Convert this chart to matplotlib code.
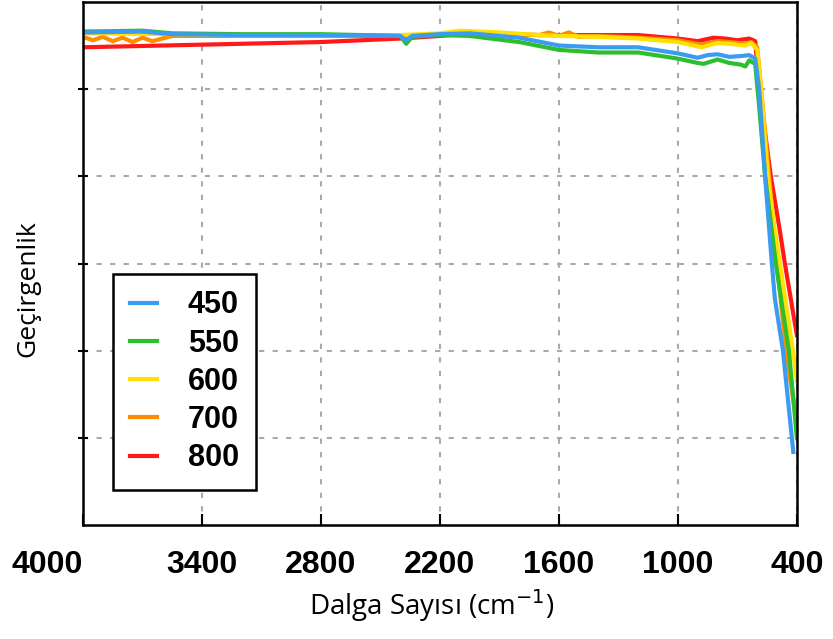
import numpy as np
import matplotlib.pyplot as plt

# FTIR transmittance spectra, samples annealed at different temperatures
wn_450 = [4000, 3700, 3550, 3200, 2800, 2400, 2370, 2340, 2200, 2050, 1800, 1600, 1400,
          1200, 1000, 900, 850, 800, 740, 680, 640, 610, 590, 560, 526, 511, 470, 425, 418]
tr_450 = [56.5, 56.6, 56.3, 56.2, 56.2, 56.1, 55.6, 56.1, 56.3, 56.4, 55.9, 55.0, 54.8,
          54.8, 54.1, 53.6, 53.9, 54.0, 53.7, 53.8, 53.9, 53.5, 50.0, 40.0, 30.0, 26.0, 20.0, 10.0, 8.4]

wn_550 = [4000, 3700, 3550, 3200, 2800, 2400, 2370, 2340, 2200, 2050, 1800, 1600, 1400,
          1200, 1000, 900, 870, 800, 740, 680, 660, 640, 610, 590, 560, 506, 440, 400]
tr_550 = [56.6, 56.7, 56.4, 56.3, 56.3, 56.1, 55.2, 56.0, 56.2, 56.1, 55.4, 54.5, 54.2,
          54.2, 53.5, 53.0, 52.9, 53.4, 53.0, 52.8, 52.6, 53.3, 52.9, 48.0, 40.0, 30.0, 20.0, 10.0]

wn_600 = [4000, 3550, 3200, 2800, 2400, 2200, 2100, 1900, 1700, 1600, 1400, 1200, 1000,
          880, 800, 740, 660, 630, 600, 580, 546, 511, 486, 420, 400]
tr_600 = [56.4, 56.3, 56.2, 56.2, 56.2, 56.4, 56.7, 56.5, 56.2, 56.1, 56.0, 55.8, 55.4,
          54.8, 55.3, 55.2, 55.0, 55.3, 54.5, 50.0, 40.0, 33.8, 30.1, 20.1, 16.6]

wn_700 = [4000, 3950, 3900, 3850, 3800, 3750, 3700, 3650, 3600, 3550, 3200, 2800, 2400,
          2200, 2000, 1700, 1650, 1600, 1550, 1500, 1400, 1200, 1000, 880, 800, 740, 660,
          630, 600, 580, 540, 500, 455, 400]
tr_700 = [56.0, 55.6, 56.0, 55.5, 55.9, 55.4, 55.9, 55.5, 55.8, 56.1, 56.1, 56.1, 56.1,
          56.3, 56.4, 56.2, 56.5, 56.1, 56.5, 56.0, 56.1, 55.9, 55.6, 55.1, 55.5, 55.4, 55.2,
          55.4, 54.8, 50.0, 40.0, 30.0, 20.0, 11.7]

wn_800 = [4000, 3400, 2800, 2400, 2200, 2100, 1900, 1700, 1600, 1400, 1200, 1050, 1000,
          900, 820, 760, 700, 640, 610, 590, 531, 486, 461, 400]
tr_800 = [54.8, 55.1, 55.4, 55.8, 56.1, 56.3, 56.3, 56.2, 56.2, 56.2, 56.2, 55.9, 55.8,
          55.5, 55.9, 55.8, 55.6, 55.8, 55.5, 50.0, 40.0, 33.8, 30.1, 21.8]

series = [
    ('800', wn_800, tr_800, '#ff1a1a'),
    ('700', wn_700, tr_700, '#ff8c00'),
    ('600', wn_600, tr_600, '#ffe000'),
    ('550', wn_550, tr_550, '#2dbe2d'),
    ('450', wn_450, tr_450, '#3a9bf0'),
]
legend_order = ['450', '550', '600', '700', '800']
xticks = [4000, 3400, 2800, 2200, 1600, 1000, 400]

fig = plt.figure(figsize=(8.33, 6.39), dpi=100)
ax = fig.add_axes([0.0996, 0.178, 0.857, 0.819])

handles = {}
for name, wn, tr, color in series:
    line, = ax.plot(wn, tr, color=color, lw=3.0, label=name, solid_joinstyle='round')
    handles[name] = line

ax.set_xlim(4000, 400)
ax.set_ylim(0, 60)
ax.set_xticks(xticks)
ax.set_xticklabels([str(t) for t in xticks], fontfamily='Liberation Sans',
                   fontweight='bold', fontsize=23)
ax.get_xticklabels()[0].set_horizontalalignment('right')
ax.set_yticks(np.arange(10, 60, 10))
ax.set_yticklabels([])
ax.tick_params(axis='x', direction='in', length=8, width=1.5, pad=18)
ax.tick_params(axis='y', direction='inout', length=7, width=1.5)
ax.grid(True, color='#aaaaaa', linestyle=(0, (2.5, 4)), linewidth=1.5)
for s in ax.spines.values():
    s.set_linewidth(1.8)

ax.set_xlabel('Dalga Sayısı (cm$^{-1}$)', fontfamily='Open Sans', fontsize=20)
ax.xaxis.set_label_coords(0.488, -0.118)
ax.set_ylabel('Geçirgenlik', fontfamily='Open Sans', fontsize=19)
ax.yaxis.set_label_coords(-0.06, 0.453)

leg = ax.legend([handles[k] for k in legend_order], legend_order, loc='lower left',
                bbox_to_anchor=(0.042, 0.067), borderaxespad=0, fancybox=False,
                framealpha=1, edgecolor='black', handlelength=0.9, handletextpad=1.0,
                labelspacing=0.27, borderpad=0.55,
                prop={'family': 'Liberation Sans', 'weight': 'bold', 'size': 22})
leg.get_frame().set_linewidth(1.8)

fig.savefig('out.png', dpi=100)
